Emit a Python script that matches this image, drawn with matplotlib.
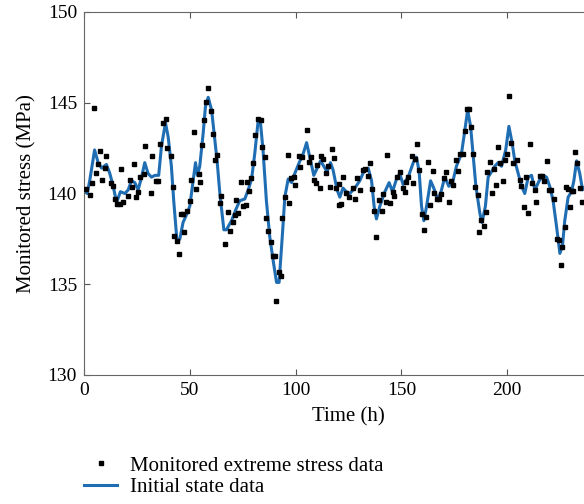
import matplotlib.pyplot as plt

# initial state curve
line_t = [0.4, 1.5, 2.7, 5.0, 6.7, 8.3, 10.6, 12.2, 13.8, 15.4, 17.2, 19.3, 20.9, 22.4, 24.0,
          25.6, 27.2, 28.7, 30.3, 31.9, 33.5, 35.3, 36.6, 38.5, 39.8, 41.3, 42.4, 44.0, 45.3,
          46.8, 48.7, 50.0, 51.6, 52.7, 53.6, 54.7, 56.3, 57.4, 58.7, 60.3, 61.5, 62.9, 64.2,
          66.1, 67.3, 69.7, 71.7, 73.6, 76.0, 77.6, 79.2, 80.7, 82.3, 83.4, 84.6, 86.2, 87.8,
          89.4, 91.0, 92.2, 93.8, 94.9, 96.5, 98.1, 99.6, 101.7, 103.6, 105.2, 106.7, 108.6,
          110.2, 111.8, 113.3, 114.9, 116.5, 117.7, 119.6, 120.9, 122.4, 124.0, 125.6, 128.0,
          130.3, 132.2, 134.3, 135.9, 137.1, 138.2, 139.8, 142.2, 144.2, 145.8, 147.7, 149.2,
          150.8, 153.2, 155.6, 157.1, 158.4, 159.5, 160.6, 161.9, 163.8, 165.3, 166.9, 168.5,
          170.5, 172.4, 174.2, 176.0, 178.4, 180.0, 181.3, 182.7, 184.0, 185.2, 187.1, 188.1,
          189.7, 191.0, 192.6, 194.1, 195.7, 197.3, 199.3, 200.8, 202.3, 203.6, 205.2, 206.8,
          208.3, 209.9, 211.5, 213.1, 215.1, 217.0, 218.6, 220.1, 221.7, 223.3, 224.9, 226.1,
          227.2, 228.8, 230.4, 231.5, 232.8, 234.3, 235.6, 237.0, 240.0]
line_s = [140.2, 140.0, 140.7, 142.4, 141.7, 141.4, 141.6, 141.1, 140.4, 139.5, 140.1, 140.0,
          140.2, 140.7, 140.6, 140.2, 140.9, 141.7, 141.1, 140.9, 141.0, 141.0, 142.6, 143.9,
          143.1, 141.5, 139.6, 137.3, 137.5, 138.4, 138.9, 139.3, 140.7, 141.7, 141.0, 141.5,
          143.3, 144.8, 145.3, 144.6, 143.3, 141.8, 140.0, 138.0, 138.0, 138.5, 139.1, 139.6,
          139.7, 140.2, 140.8, 142.2, 144.0, 143.9, 142.4, 139.6, 137.6, 136.3, 135.1, 135.1,
          137.8, 139.8, 140.8, 140.6, 141.1, 141.7, 142.2, 142.8, 142.0, 141.0, 141.4, 141.8,
          141.5, 141.2, 141.7, 141.3, 140.2, 139.8, 140.3, 140.1, 140.0, 140.3, 140.7, 141.2,
          141.4, 140.7, 139.3, 138.6, 139.3, 140.1, 140.6, 140.1, 140.8, 141.1, 140.5, 140.9,
          141.7, 142.0, 141.2, 139.3, 138.5, 139.3, 140.7, 140.3, 139.7, 140.0, 140.9, 140.4,
          140.6, 141.5, 142.2, 143.5, 144.6, 143.7, 142.0, 140.4, 138.9, 138.4, 139.3, 140.9,
          141.2, 141.5, 141.7, 141.5, 142.4, 143.7, 142.8, 141.8, 141.1, 140.4, 140.0, 140.9,
          141.0, 140.2, 140.7, 141.0, 140.9, 140.4, 139.6, 138.2, 136.7, 137.1, 138.5, 139.8,
          140.1, 140.7, 141.8, 141.1, 140.2, 140.4, 140.8]

# monitored extreme stress points
dot_t = [0.85, 2.74, 3.69, 4.63, 5.58, 6.68, 7.78, 8.57, 10.15, 10.62, 12.67, 13.77, 14.71,
         15.66, 16.92, 17.55, 18.49, 20.86, 21.64, 22.75, 23.69, 24.8, 25.74, 26.69, 28.42,
         28.73, 31.57, 32.36, 33.93, 34.88, 36.14, 37.4, 38.66, 39.45, 41.02, 42.12, 42.59,
         44.17, 44.8, 45.75, 46.85, 47.32, 48.9, 50.0, 50.79, 51.89, 52.84, 54.25, 54.73,
         55.67, 56.77, 57.88, 58.82, 59.92, 61.03, 61.81, 63.08, 64.97, 64.18, 66.86, 68.12,
         69.22, 70.48, 71.27, 72.05, 73.0, 74.1, 75.2, 76.5, 76.8, 78.0, 79.1, 79.9, 81.0,
         82.0, 83.6, 84.2, 85.4, 85.9, 87.0, 88.3, 89.4, 90.2, 90.6, 92.2, 93.3, 93.8, 94.9,
         96.2, 96.9, 98.0, 99.1, 99.9, 101.5, 102.3, 103.2, 105.4, 106.2, 107.5, 108.6, 109.5,
         110.3, 111.4, 112.2, 113.0, 114.3, 115.4, 116.2, 117.3, 118.2, 119.3, 120.4, 120.6,
         121.5, 122.5, 123.7, 125.3, 127.2, 128.3, 129.2, 130.3, 131.9, 133.0, 134.3, 135.2,
         136.3, 137.1, 138.2, 139.5, 140.6, 141.4, 142.5, 143.4, 144.5, 145.8, 146.4, 147.7,
         149.2, 150.8, 151.6, 152.4, 153.2, 154.8, 155.5, 156.3, 157.4, 158.4, 159.5, 160.6,
         161.8, 162.6, 163.7, 164.7, 165.5, 166.6, 167.8, 168.9, 170.2, 171.3, 172.6, 173.3,
         174.4, 175.7, 176.8, 177.6, 178.9, 180.0, 180.8, 182.0, 182.8, 183.9, 185.0, 186.0,
         186.7, 187.8, 188.9, 189.9, 190.5, 191.8, 192.6, 193.7, 194.6, 195.7, 196.8, 197.8,
         198.9, 200.0, 200.8, 201.7, 202.8, 204.7, 206.0, 206.7, 207.8, 208.8, 209.9, 211.0,
         211.9, 213.0, 213.8, 215.4, 216.5, 217.5, 218.6, 219.7, 220.9, 222.2, 223.3, 224.5,
         225.2, 226.1, 227.2, 228.0, 228.8, 229.9, 230.4, 231.2, 231.9, 233.2, 234.3, 235.4]
dot_s = [140.23, 139.92, 140.6, 144.69, 141.11, 141.63, 142.36, 140.74, 141.39, 142.07, 140.6,
         140.43, 139.68, 139.42, 139.42, 141.33, 139.53, 139.86, 140.74, 140.38, 141.61, 139.83,
         140.1, 140.93, 141.07, 142.63, 140.05, 142.08, 140.71, 140.69, 142.71, 143.9, 144.09,
         142.49, 142.07, 140.38, 137.68, 137.4, 136.67, 138.87, 138.85, 137.9, 139.04, 139.6,
         140.74, 143.41, 140.25, 141.07, 140.65, 142.67, 144.05, 145.06, 145.79, 144.55, 143.28,
         141.85, 142.12, 139.86, 139.46, 137.22, 138.98, 137.91, 138.41, 138.81, 139.64, 138.9,
         140.65, 139.33, 139.37, 140.65, 140.15, 140.84, 141.66, 143.22, 144.1, 144.05, 142.54,
         142.03, 138.63, 137.93, 137.31, 136.57, 136.57, 134.09, 135.69, 135.47, 138.63, 139.79,
         142.1, 139.46, 140.87, 140.93, 140.47, 142.08, 141.48, 141.99, 143.5, 141.72, 142.03,
         140.74, 140.56, 141.59, 140.32, 142.07, 141.88, 141.11, 141.52, 140.38, 142.45, 141.97,
         140.32, 140.52, 139.37, 139.4, 140.93, 140.05, 139.83, 140.32, 139.68, 140.87, 140.19,
         141.3, 141.33, 140.98, 141.66, 140.25, 139.04, 137.59, 139.64, 139.05, 139.95, 139.51,
         142.1, 139.46, 140.1, 139.86, 140.93, 141.2, 140.28, 140.1, 140.65, 140.93, 142.07,
         140.6, 141.92, 142.73, 141.3, 138.85, 138.0, 138.69, 141.75, 139.37, 141.26, 140.01,
         139.7, 139.7, 139.97, 140.84, 141.17, 139.51, 140.71, 140.47, 141.85, 141.26, 142.16,
         142.16, 143.46, 144.65, 144.65, 143.64, 142.16, 140.34, 139.92, 137.9, 138.54, 138.23,
         139.0, 141.17, 141.72, 140.01, 141.35, 140.47, 142.58, 141.66, 140.69, 141.85, 142.18,
         145.39, 142.76, 141.7, 141.85, 140.74, 140.41, 139.24, 140.93, 138.94, 142.73, 140.6,
         140.19, 139.55, 140.96, 140.96, 140.69, 141.81, 140.19, 140.19, 139.68, 137.49, 137.44,
         136.06, 137.03, 138.17, 140.38, 140.23, 139.27, 140.16, 140.14, 142.27, 141.66, 140.32,
         139.51]

x_ticks = [0, 50, 100, 150, 200]
y_ticks = [130, 135, 140, 145, 150]

plt.rcParams['font.family'] = ['Liberation Serif', 'DejaVu Serif']

fig = plt.figure(figsize=(5.84, 5.04), dpi=100)
# axes run past the right edge of the figure, as in the cropped original
ax = fig.add_axes([84 / 584, 129 / 504, 529 / 584, 363 / 504])

ax.plot(dot_t, dot_s, 's', color='black', markersize=3.4, linestyle='none',
        label='Monitored extreme stress data', zorder=3)
ax.plot(line_t, line_s, color='#1f6db3', linewidth=2.2, label='Initial state data',
        zorder=2, solid_joinstyle='round')

ax.set_xlim(0, 250)
ax.set_ylim(130, 150)
ax.set_xticks(x_ticks)
ax.set_yticks(y_ticks)
ax.tick_params(direction='in', top=True, right=True, labelsize=14, length=4,
               color='#555555', pad=5)
for sp in ax.spines.values():
    sp.set_color('#666666')
    sp.set_linewidth(0.8)

ax.set_xlabel('Time (h)', fontsize=15, labelpad=6)
ax.set_ylabel('Monitored stress (MPa)', fontsize=15, labelpad=8)

fig.legend(loc='upper left', bbox_to_anchor=(84 / 584, 1 - 456 / 504), frameon=False,
           fontsize=15, handlelength=1.6, handletextpad=0.6, labelspacing=0.1,
           borderaxespad=0, borderpad=0)

fig.savefig('out.png', dpi=100)
